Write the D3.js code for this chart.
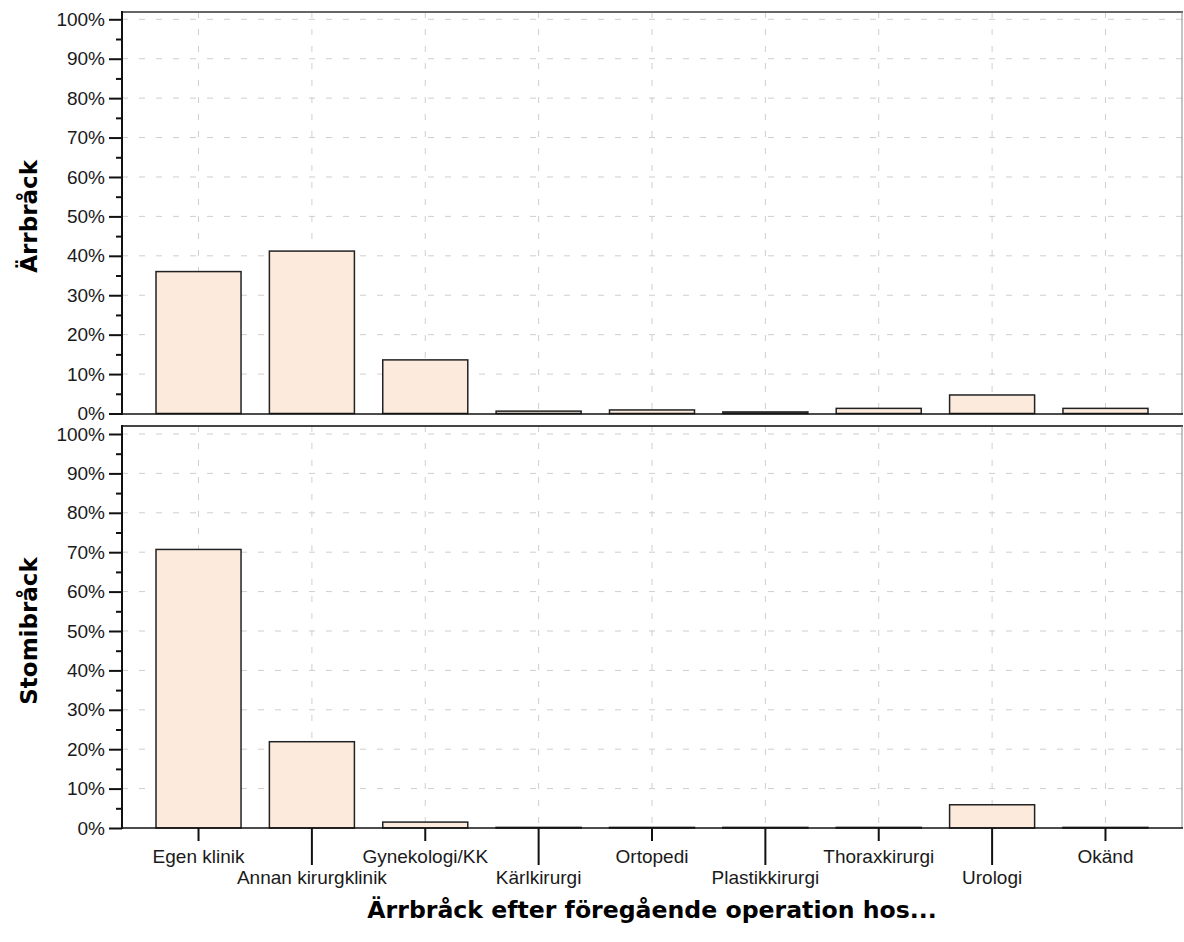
<!DOCTYPE html>
<html>
<head>
<meta charset="utf-8">
<script src="https://cdn.jsdelivr.net/npm/d3@7/dist/d3.min.js"></script>
<style>
  html, body { margin: 0; padding: 0; background: #fff; }
  svg { display: block; }
</style>
</head>
<body>
<svg id="chart" width="1184" height="942"></svg>
<script>
// ---- data ----
const categories = ["Egen klinik", "Annan kirurgklinik", "Gynekologi/KK", "Kärlkirurgi", "Ortopedi", "Plastikkirurgi", "Thoraxkirurgi", "Urologi", "Okänd"];
const arrbrackValues = [36.0, 41.2, 13.6, 0.6, 0.9, 0.4, 1.3, 4.7, 1.3];
const stomibrackValues = [70.7, 21.9, 1.5, 0, 0, 0, 0, 5.9, 0];
const panelLabels = ["Ärrbråck", "Stomibråck"];
const yMajorTicks = [0, 10, 20, 30, 40, 50, 60, 70, 80, 90, 100];
const yMinorTicks = [5, 15, 25, 35, 45, 55, 65, 75, 85, 95];
const xTitle = "Ärrbråck efter föregående operation hos...";

// ---- layout ----
const svg = d3.select("#chart");
const left = 122, right = 1182;
const panels = [
  { label: panelLabels[0], values: arrbrackValues, frameTop: 12, y0: 413.5, y100: 19.3, bottom: 414 },
  { label: panelLabels[1], values: stomibrackValues, frameTop: 426, y0: 828, y100: 434, bottom: 828 }
];
const tickFont = "'Liberation Sans', Arial, sans-serif";
const titleFont = "'DejaVu Sans', Verdana, sans-serif";
const barFill = "#FCEADC";
const gridColor = "#cfcfcf";

const x = d3.scaleBand().domain(categories).range([left, right])
  .paddingInner(0.25).paddingOuter(0.3);

panels.forEach((p, pi) => {
  const y = d3.scaleLinear().domain([0, 100]).range([p.y0, p.y100]);
  const g = svg.append("g");

  // horizontal grid
  g.selectAll("line.hgrid").data(yMajorTicks.filter(d => d > 0)).join("line")
    .attr("x1", left).attr("x2", right)
    .attr("y1", d => y(d)).attr("y2", d => y(d))
    .attr("stroke", gridColor).attr("stroke-width", 1)
    .attr("stroke-dasharray", "6,11");
  // vertical grid
  g.selectAll("line.vgrid").data(categories).join("line")
    .attr("x1", d => x(d) + x.bandwidth() / 2).attr("x2", d => x(d) + x.bandwidth() / 2)
    .attr("y1", p.frameTop).attr("y2", p.bottom)
    .attr("stroke", gridColor).attr("stroke-width", 1)
    .attr("stroke-dasharray", "6,11");

  // bars (zero-valued bars still show their outline at the baseline)
  g.selectAll("rect.bar").data(categories).join("rect")
    .attr("x", d => x(d))
    .attr("width", x.bandwidth())
    .attr("y", (d, i) => Math.min(y(p.values[i]), y(0) - 0.6))
    .attr("height", (d, i) => Math.max(y(0) - y(p.values[i]), 0.6))
    .attr("fill", barFill)
    .attr("stroke", "#222").attr("stroke-width", 1.5);

  // frame: top and right (gray), left and bottom axis (black)
  g.append("line").attr("x1", left).attr("x2", right + 1)
    .attr("y1", p.frameTop).attr("y2", p.frameTop)
    .attr("stroke", pi === 0 ? "#666" : "#444").attr("stroke-width", 2);
  g.append("line").attr("x1", right).attr("x2", right)
    .attr("y1", p.frameTop).attr("y2", p.bottom)
    .attr("stroke", "#888").attr("stroke-width", 1);
  g.append("line").attr("x1", left).attr("x2", right + 1)
    .attr("y1", p.bottom).attr("y2", p.bottom)
    .attr("stroke", "#111").attr("stroke-width", 1.5);
  g.append("line").attr("x1", left).attr("x2", left)
    .attr("y1", p.frameTop - 1).attr("y2", p.bottom + 1)
    .attr("stroke", "#111").attr("stroke-width", 2);

  // y axis major ticks + labels
  const yAxis = d3.axisLeft(y).tickValues(yMajorTicks).tickSize(13).tickPadding(4)
    .tickFormat(d => d + "%");
  const ya = g.append("g").attr("transform", `translate(${left},0)`).call(yAxis);
  ya.select(".domain").remove();
  ya.selectAll(".tick line").attr("stroke", "#111").attr("stroke-width", 2);
  ya.selectAll(".tick text").attr("font-family", tickFont).attr("font-size", 19)
    .attr("fill", "#1a1a1a");
  // minor ticks
  const ym = g.append("g").attr("transform", `translate(${left},0)`)
    .call(d3.axisLeft(y).tickValues(yMinorTicks).tickSize(6).tickFormat(""));
  ym.select(".domain").remove();
  ym.selectAll(".tick line").attr("stroke", "#111").attr("stroke-width", 2);

  // panel label
  g.append("text")
    .attr("transform", `translate(37,${(p.y0 + p.y100) / 2}) rotate(-90)`)
    .attr("text-anchor", "middle")
    .attr("font-family", titleFont).attr("font-weight", "bold").attr("font-size", 23)
    .attr("fill", "#000")
    .text(p.label);

  // x axis on bottom panel
  if (pi === 1) {
    const xa = g.append("g").attr("transform", `translate(0,${p.bottom})`)
      .call(d3.axisBottom(x).tickSize(13).tickPadding(3));
    xa.select(".domain").remove();
    xa.selectAll(".tick line").attr("stroke", "#111").attr("stroke-width", 2)
      .attr("y2", (d, i) => i % 2 === 0 ? 13 : 37);
    xa.selectAll(".tick text")
      .attr("font-family", tickFont).attr("font-size", 19).attr("fill", "#1a1a1a")
      .attr("dy", null)
      .attr("y", (d, i) => i % 2 === 0 ? 35 : 56);
  }
});

// x title
svg.append("text")
  .attr("x", (left + right) / 2).attr("y", 918)
  .attr("text-anchor", "middle")
  .attr("font-family", titleFont).attr("font-weight", "bold").attr("font-size", 23.6)
  .attr("fill", "#000")
  .text(xTitle);
</script>
</body>
</html>
